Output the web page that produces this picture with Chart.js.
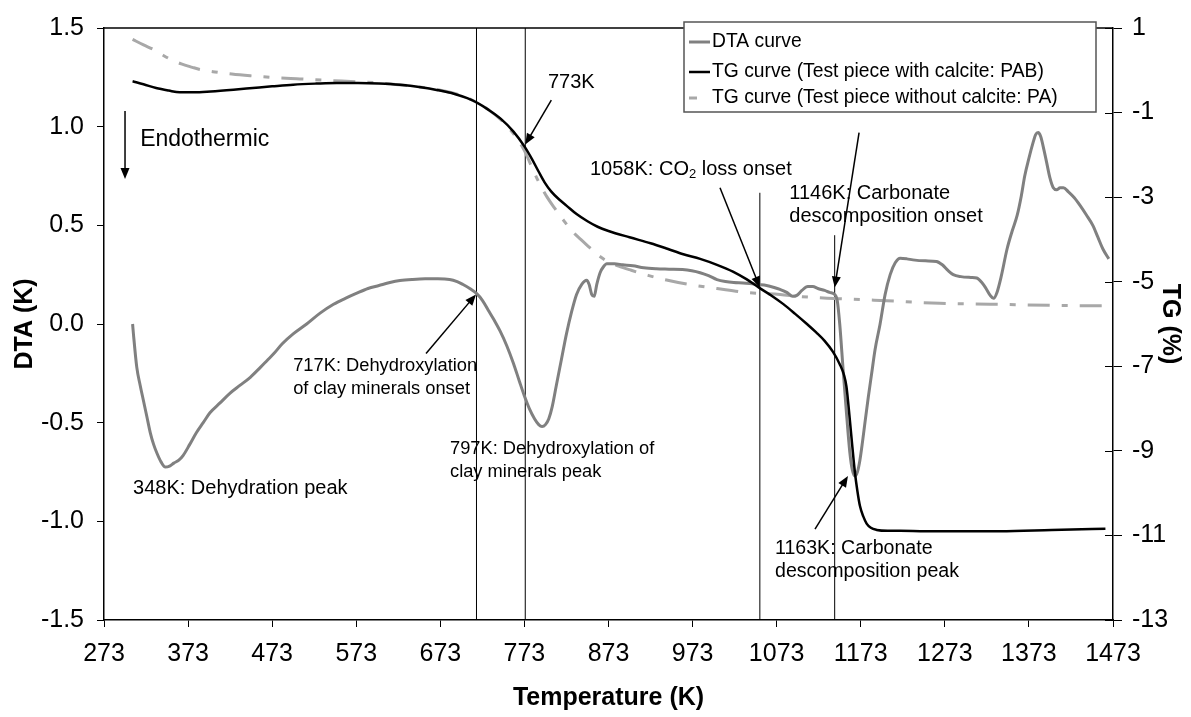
<!DOCTYPE html>
<html>
<head>
<meta charset="utf-8">
<script src="https://cdn.jsdelivr.net/npm/chart.js@4.4.1/dist/chart.umd.min.js"></script>
<style>
  html, body { margin: 0; padding: 0; background: #fff; }
</style>
</head>
<body>
<canvas id="my" width="1191" height="717"></canvas>
<script>
// ---- data ----
const dtaTemp = [307, 308, 312, 316, 320, 324, 328, 332, 336, 341, 346, 351, 356, 362, 367, 375, 383, 391, 399, 411, 423, 435, 447, 459, 467, 475, 485, 498, 514, 530, 546, 560, 573, 587, 600, 613, 625, 640, 655, 670, 684, 693, 700, 708, 716, 723, 730, 737, 744, 752, 760, 767, 773, 779, 785, 790, 794, 798, 802, 806, 811, 817, 823, 829, 835, 841, 847, 850, 853, 856, 859, 863, 867, 871, 880, 890, 902, 915, 930, 945, 961, 972, 982, 992, 1002, 1012, 1022, 1033, 1041, 1051, 1061, 1070, 1077, 1085, 1092, 1097, 1103, 1110, 1116, 1122, 1130, 1136, 1142, 1145, 1148, 1152, 1156, 1160, 1163, 1166, 1169, 1172, 1175, 1178, 1182, 1186, 1190, 1196, 1202, 1208, 1214, 1220, 1228, 1235, 1250, 1263, 1270, 1277, 1283, 1292, 1304, 1311, 1317, 1322, 1327, 1331, 1335, 1340, 1347, 1353, 1359, 1364, 1368, 1373, 1378, 1381, 1384, 1387, 1391, 1394, 1398, 1402, 1406, 1410, 1414, 1420, 1427, 1434, 1441, 1449, 1455, 1461, 1468];
const dtaValue = [0.0, -0.05, -0.22, -0.31, -0.39, -0.47, -0.55, -0.61, -0.655, -0.70, -0.725, -0.72, -0.705, -0.69, -0.667, -0.61, -0.55, -0.50, -0.45, -0.40, -0.35, -0.31, -0.27, -0.22, -0.185, -0.15, -0.10, -0.05, 0.0, 0.055, 0.10, 0.13, 0.155, 0.18, 0.195, 0.21, 0.22, 0.226, 0.229, 0.229, 0.226, 0.215, 0.20, 0.18, 0.155, 0.12, 0.07, 0.02, -0.035, -0.11, -0.2, -0.29, -0.365, -0.43, -0.48, -0.51, -0.52, -0.51, -0.48, -0.42, -0.31, -0.18, -0.05, 0.06, 0.15, 0.2, 0.222, 0.2, 0.15, 0.14, 0.2, 0.26, 0.29, 0.305, 0.305, 0.30, 0.295, 0.285, 0.28, 0.278, 0.276, 0.27, 0.26, 0.245, 0.225, 0.215, 0.21, 0.208, 0.205, 0.2, 0.195, 0.185, 0.175, 0.16, 0.14, 0.145, 0.17, 0.19, 0.19, 0.18, 0.17, 0.16, 0.15, 0.12, 0.0, -0.23, -0.45, -0.65, -0.74, -0.77, -0.75, -0.69, -0.6, -0.5, -0.37, -0.25, -0.13, 0.0, 0.15, 0.25, 0.31, 0.333, 0.33, 0.325, 0.32, 0.317, 0.3, 0.27, 0.25, 0.24, 0.236, 0.233, 0.21, 0.18, 0.145, 0.13, 0.16, 0.24, 0.38, 0.47, 0.55, 0.65, 0.75, 0.84, 0.92, 0.96, 0.97, 0.95, 0.88, 0.82, 0.74, 0.69, 0.68, 0.69, 0.69, 0.67, 0.64, 0.6, 0.555, 0.5, 0.44, 0.38, 0.33];

const pabTemp = [307, 320, 335, 350, 363, 380, 400, 427, 450, 473, 498, 525, 550, 575, 600, 625, 650, 670, 690, 705, 717, 730, 745, 760, 773, 782, 790, 797, 805, 814, 823, 835, 848, 860, 873, 898, 923, 943, 962, 982, 1002, 1021, 1037, 1052, 1067, 1081, 1095, 1109, 1120, 1130, 1140, 1148, 1153, 1156, 1160, 1163, 1166, 1169, 1172, 1176, 1180, 1185, 1192, 1205, 1220, 1250, 1300, 1339, 1400, 1464];
const pabValue = [-0.26, -0.33, -0.42, -0.48, -0.52, -0.52, -0.50, -0.46, -0.42, -0.38, -0.34, -0.315, -0.30, -0.30, -0.31, -0.34, -0.40, -0.47, -0.56, -0.66, -0.77, -0.93, -1.15, -1.45, -1.80, -2.1, -2.4, -2.65, -2.87, -3.05, -3.2, -3.4, -3.57, -3.7, -3.8, -3.95, -4.09, -4.22, -4.35, -4.46, -4.6, -4.76, -4.94, -5.14, -5.33, -5.53, -5.76, -6.0, -6.2, -6.4, -6.66, -6.95, -7.2, -7.48, -8.26, -8.9, -9.5, -9.95, -10.3, -10.55, -10.72, -10.82, -10.87, -10.89, -10.89, -10.9, -10.9, -10.9, -10.87, -10.84];

const paTemp = [307, 320, 332, 342, 352, 365, 378, 387, 405, 425, 447, 475, 502, 540, 573, 600, 623, 650, 673, 690, 705, 717, 730, 745, 760, 773, 782, 790, 800, 810, 820, 830, 840, 850, 860, 871, 885, 900, 920, 942, 970, 1002, 1041, 1077, 1101, 1133, 1148, 1204, 1267, 1327, 1400, 1468];
const paValue = [0.73, 0.6, 0.49, 0.37, 0.26, 0.15, 0.07, 0.02, -0.04, -0.09, -0.13, -0.17, -0.20, -0.24, -0.27, -0.30, -0.34, -0.40, -0.47, -0.55, -0.65, -0.77, -0.93, -1.17, -1.5, -1.9, -2.3, -2.64, -3.0, -3.29, -3.56, -3.81, -4.0, -4.18, -4.36, -4.51, -4.63, -4.73, -4.85, -4.96, -5.07, -5.16, -5.26, -5.3, -5.35, -5.39, -5.4, -5.45, -5.51, -5.53, -5.56, -5.57];

// vertical reference lines (temperature, top on DTA axis)
const markerTemp = [716, 774, 1053, 1142];
const markerTop = [1.5, 1.5, 0.665, 0.45];

// tick labels
const tempTicks = [273, 373, 473, 573, 673, 773, 873, 973, 1073, 1173, 1273, 1373, 1473];
const dtaTicks = [-1.5, -1.0, -0.5, 0.0, 0.5, 1.0, 1.5];
const tgTicks = [-13, -11, -9, -7, -5, -3, -1, 1];

const seriesNames = ['DTA curve', 'TG curve (Test piece with calcite: PAB)', 'TG curve (Test piece without calcite: PA)'];

// ---- annotations (placed in data units: temperature, DTA) ----
const notes = [
  { lines: ['Endothermic'], at: [316, 0.935], size: 23 },
  { lines: ['773K'], at: [801, 1.225], size: 20 },
  { lines: ['1058K: CO_2 loss onset'], at: [851, 0.785], size: 20 },
  { lines: ['1146K: Carbonate', 'descomposition onset'], at: [1088, 0.66], size: 20 },
  { lines: ['717K: Dehydroxylation', 'of clay minerals onset'], at: [498, -0.215], size: 18.3 },
  { lines: ['797K: Dehydroxylation of', 'clay minerals peak'], at: [684.5, -0.635], size: 18.3 },
  { lines: ['348K: Dehydration peak'], at: [307.5, -0.835], size: 20 },
  { lines: ['1163K: Carbonate', 'descomposition peak'], at: [1071, -1.14], size: 19.6 }
];
const arrows = [
  { from: [298, 1.08], to: [298, 0.735] },
  { from: [805, 1.135], to: [774, 0.91] },
  { from: [1005.6, 0.69], to: [1053, 0.185] },
  { from: [1171, 0.97], to: [1142, 0.185] },
  { from: [656, -0.15], to: [715.4, 0.15] },
  { from: [1118.6, -1.04], to: [1157.8, -0.77] }
];

const FONT = 'Arial, "Liberation Sans", Helvetica, sans-serif';
Chart.defaults.font.family = FONT;
Chart.defaults.color = '#000';

const pts = (xs, ys) => xs.map((x, i) => ({ x: x, y: ys[i] }));

function drawRich(ctx, str, x, y, size) {
  const parts = str.split('_');
  let cx = x;
  parts.forEach((p, i) => {
    if (i > 0) {
      ctx.font = Math.round(size * 0.65) + 'px ' + FONT;
      ctx.fillText(p[0], cx, y + size * 0.28);
      cx += ctx.measureText(p[0]).width;
      p = p.slice(1);
    }
    ctx.font = size + 'px ' + FONT;
    ctx.fillText(p, cx, y);
    cx += ctx.measureText(p).width;
  });
}

function arrow(ctx, x0, y0, x1, y1) {
  const a = Math.atan2(y1 - y0, x1 - x0), L = 11, W = 4.5;
  ctx.beginPath();
  ctx.moveTo(x0, y0);
  ctx.lineTo(x1 - L * 0.8 * Math.cos(a), y1 - L * 0.8 * Math.sin(a));
  ctx.stroke();
  ctx.beginPath();
  ctx.moveTo(x1, y1);
  ctx.lineTo(x1 - L * Math.cos(a) + W * Math.sin(a), y1 - L * Math.sin(a) - W * Math.cos(a));
  ctx.lineTo(x1 - L * Math.cos(a) - W * Math.sin(a), y1 - L * Math.sin(a) + W * Math.cos(a));
  ctx.closePath();
  ctx.fill();
}

const decor = {
  id: 'decor',
  afterDatasetsDraw(chart) {
    const ctx = chart.ctx, ca = chart.chartArea;
    const sx = chart.scales.x, sy = chart.scales.y, s2 = chart.scales.y2;
    ctx.save();
    // top border of the plot box
    ctx.strokeStyle = '#000';
    ctx.lineWidth = 1.5;
    ctx.beginPath();
    ctx.moveTo(ca.left, ca.top);
    ctx.lineTo(ca.right, ca.top);
    ctx.stroke();
    // inner half of the right axis ticks
    ctx.lineWidth = 1;
    tgTicks.forEach(v => {
      const y = Math.round(s2.getPixelForValue(v)) + 0.5;
      ctx.beginPath();
      ctx.moveTo(ca.right - 8, y);
      ctx.lineTo(ca.right, y);
      ctx.stroke();
    });

    // arrows
    ctx.fillStyle = '#000';
    ctx.lineWidth = 1.5;
    arrows.forEach(a => {
      arrow(ctx, sx.getPixelForValue(a.from[0]), sy.getPixelForValue(a.from[1]),
        sx.getPixelForValue(a.to[0]), sy.getPixelForValue(a.to[1]));
    });

    // texts
    ctx.textAlign = 'left';
    ctx.textBaseline = 'middle';
    notes.forEach(n => {
      const x = sx.getPixelForValue(n.at[0]);
      const y = sy.getPixelForValue(n.at[1]);
      n.lines.forEach((l, i) => drawRich(ctx, l, x, y + i * 23, n.size));
    });

    // legend box
    const lx0 = 684, ly0 = 22, lx1 = 1096, ly1 = 112;
    ctx.fillStyle = '#fff';
    ctx.fillRect(lx0, ly0, lx1 - lx0, ly1 - ly0);
    ctx.strokeStyle = '#555';
    ctx.lineWidth = 1.5;
    ctx.strokeRect(lx0, ly0, lx1 - lx0, ly1 - ly0);
    const rows = [42, 72, 98];
    chart.data.datasets.slice(0, 3).forEach((d) => {
      const r = rows[seriesNames.indexOf(d.label)];
      ctx.strokeStyle = d.borderColor;
      ctx.lineWidth = d.borderWidth;
      ctx.setLineDash(d.borderDash ? [8, 30] : []);
      ctx.beginPath();
      ctx.moveTo(689, r);
      ctx.lineTo(710, r);
      ctx.stroke();
      ctx.setLineDash([]);
      ctx.fillStyle = '#000';
      ctx.font = '19.3px ' + FONT;
      ctx.fillText(d.label, 712, r);
    });
    ctx.restore();
  }
};

const markerSets = markerTemp.map((t, i) => ({
  label: '',
  data: [{ x: t, y: -1.5 }, { x: t, y: markerTop[i] }],
  yAxisID: 'y',
  borderColor: '#000',
  borderWidth: 1,
  pointRadius: 0,
  showLine: true
}));

new Chart(document.getElementById('my'), {
  type: 'scatter',
  data: {
    datasets: [
      {
        label: seriesNames[1],
        data: pts(pabTemp, pabValue),
        yAxisID: 'y2',
        borderColor: '#000',
        borderWidth: 2.5,
        pointRadius: 0,
        showLine: true,
        cubicInterpolationMode: 'monotone'
      },
      {
        label: seriesNames[0],
        data: pts(dtaTemp, dtaValue),
        yAxisID: 'y',
        borderColor: '#808080',
        borderWidth: 3,
        pointRadius: 0,
        showLine: true,
        cubicInterpolationMode: 'monotone'
      },
      {
        label: seriesNames[2],
        data: pts(paTemp, paValue),
        yAxisID: 'y2',
        borderColor: '#a8a8a8',
        borderWidth: 3,
        borderDash: [22, 12, 6, 12],
        pointRadius: 0,
        showLine: true,
        cubicInterpolationMode: 'monotone'
      }
    ].concat(markerSets)
  },
  options: {
    responsive: false,
    animation: false,
    devicePixelRatio: 1,
    layout: { padding: { top: 20, left: 0, right: 0, bottom: 0 } },
    plugins: { legend: { display: false }, tooltip: { enabled: false } },
    scales: {
      x: {
        type: 'linear',
        position: 'bottom',
        min: 273,
        max: 1473,
        afterBuildTicks: s => { s.ticks = tempTicks.map(v => ({ value: v })); },
        ticks: { callback: v => String(v), font: { size: 25 }, color: '#000', padding: 12, maxRotation: 0 },
        grid: { drawOnChartArea: false, tickLength: 7, color: '#000', lineWidth: 1 },
        border: { color: '#000', width: 1.5 },
        title: { display: true, text: 'Temperature (K)', font: { size: 25, weight: 'bold' }, color: '#000', padding: { top: 0, bottom: 4 } },
        afterFit: s => { s.height = 97; }
      },
      y: {
        position: 'left',
        min: -1.5,
        max: 1.5,
        afterBuildTicks: s => { s.ticks = dtaTicks.map(v => ({ value: v })); },
        ticks: { callback: v => v.toFixed(1), font: { size: 25 }, color: '#000', padding: 13 },
        grid: { drawOnChartArea: false, tickLength: 7, color: '#000', lineWidth: 1 },
        border: { color: '#000', width: 1.5 },
        title: { display: true, text: 'DTA (K)', font: { size: 25, weight: 'bold' }, color: '#000', padding: { top: 10, bottom: 0 } },
        afterFit: s => { s.width = 104; }
      },
      y2: {
        position: 'right',
        min: -13,
        max: 1,
        afterBuildTicks: s => { s.ticks = tgTicks.map(v => ({ value: v })); },
        ticks: { callback: v => String(v), font: { size: 25 }, color: '#000', padding: 10 },
        grid: { drawOnChartArea: false, tickLength: 9, color: '#000', lineWidth: 1 },
        border: { color: '#000', width: 1.5 },
        title: { display: true, text: 'TG (%)', font: { size: 25, weight: 'bold' }, color: '#000', padding: { top: 6, bottom: 0 } },
        afterFit: s => { s.width = 78; }
      }
    }
  },
  plugins: [decor]
});
</script>
</body>
</html>
